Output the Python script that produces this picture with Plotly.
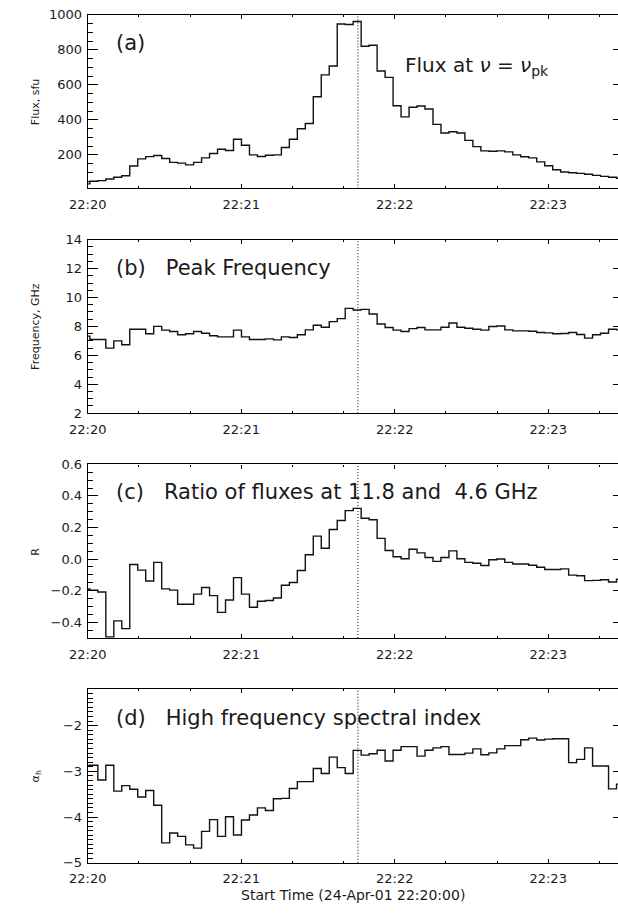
import plotly.graph_objects as go

# ---------------- data ----------------
T0 = -0.76      # s after 22:20:00 of first sample (bin centre)
DT = 3.12       # s cadence
PEAK_T = 105.6  # dotted line, s after 22:20:00

flux = [34, 49, 53, 62, 72, 81, 136, 177, 190, 196, 179, 157, 153, 143, 157, 183,
        208, 232, 225, 289, 255, 200, 191, 198, 200, 242, 289, 349, 379, 532, 657, 708,
        948, 945, 962, 821, 826, 679, 643, 481, 417, 472, 479, 462, 374, 325, 332, 325,
        283, 247, 223, 221, 223, 217, 200, 189, 183, 160, 138, 115, 102, 98, 94, 89,
        83, 77, 72, 66]

freq = [7.33, 7.10, 7.10, 6.50, 7.00, 6.73, 7.80, 7.80, 7.49, 8.00, 7.74, 7.65, 7.42,
        7.49, 7.65, 7.53, 7.35, 7.28, 7.28, 7.74, 7.28, 7.10, 7.10, 7.14, 7.07, 7.28,
        7.23, 7.42, 7.76, 8.08, 7.94, 8.33, 8.54, 9.25, 9.13, 9.18, 8.86, 8.17, 7.92,
        7.74, 7.65, 7.85, 7.92, 7.76, 7.76, 7.94, 8.24, 7.94, 7.87, 7.80, 7.74, 7.99,
        8.03, 7.76, 7.69, 7.69, 7.67, 7.58, 7.55, 7.49, 7.51, 7.58, 7.44, 7.19, 7.42,
        7.53, 7.80, 7.76]

ratio = [-0.190, -0.197, -0.209, -0.493, -0.392, -0.441, -0.035, -0.070, -0.139, -0.021,
         -0.189, -0.197, -0.286, -0.286, -0.222, -0.180, -0.232, -0.338, -0.259, -0.118,
         -0.222, -0.305, -0.267, -0.263, -0.247, -0.166, -0.149, -0.073, 0.027, 0.145,
         0.068, 0.187, 0.244, 0.307, 0.321, 0.259, 0.249, 0.131, 0.054, 0.015, 0.002,
         0.062, 0.039, 0.010, -0.015, 0.010, 0.052, 0.002, -0.021, -0.027, -0.041,
         -0.004, 0.000, -0.021, -0.031, -0.031, -0.039, -0.052, -0.066, -0.066, -0.062,
         -0.102, -0.106, -0.137, -0.135, -0.131, -0.145, -0.128]

alpha = [-2.87, -2.867, -3.19, -2.867, -3.434, -3.312, -3.391, -3.563, -3.42, -3.742,
         -4.566, -4.351, -4.423, -4.609, -4.681, -4.315, -4.057, -4.423, -3.993, -4.394,
         -4.065, -3.957, -3.799, -3.857, -3.599, -3.591, -3.376, -3.226, -3.226, -2.939,
         -3.047, -2.688, -2.918, -3.047, -2.54, -2.645, -2.616, -2.538, -2.774, -2.538,
         -2.459, -2.459, -2.667, -2.538, -2.487, -2.459, -2.631, -2.631, -2.602, -2.509,
         -2.638, -2.595, -2.509, -2.437, -2.437, -2.308, -2.272, -2.315, -2.294, -2.287,
         -2.287, -2.81, -2.738, -2.487, -2.882, -2.882, -3.384, -3.28]

times = [T0 + i * DT for i in range(len(flux))]

x_tickvals = [0, 60, 120, 180]
x_ticktext = ["22:20", "22:21", "22:22", "22:23"]

y_titles = ["Flux, sfu", "Frequency, GHz", "R", "α<sub>h</sub>"]
y_ranges = [[8, 1000], [2, 14], [-0.5, 0.6], [-5.0, -1.2]]
y_tickvals = [[200, 400, 600, 800, 1000],
              [2, 4, 6, 8, 10, 12, 14],
              [-0.4, -0.2, 0.0, 0.2, 0.4, 0.6],
              [-5, -4, -3, -2]]
y_ticktext = [["200", "400", "600", "800", "1000"],
              ["2", "4", "6", "8", "10", "12", "14"],
              ["−0.4", "−0.2", "0.0", "0.2", "0.4", "0.6"],
              ["−5", "−4", "−3", "−2"]]
y_minor = [50, 0.5, 0.05, 0.1]

panel_labels = ["(a)", "(b)   Peak Frequency",
                "(c)   Ratio of fluxes at 11.8 and  4.6 GHz",
                "(d)   High frequency spectral index"]
flux_label = "Flux at <i>ν</i> = <i>ν</i><sub>pk</sub>"
x_title = "Start Time (24-Apr-01 22:20:00)"

series = [flux, freq, ratio, alpha]

# ---------------- layout geometry (pixels) ----------------
W, H = 618, 913
XL_PX = 71
X_END = 207.3
PANEL_TOP = [8, 236.5, 465, 693.5]
PANEL_H = 176.5
FONT = "DejaVu Sans, sans-serif"
TXT = "#1a1a1a"

def py(p):
    return 1 - p / H

def px(p):
    return p / W

fig = go.Figure()
layout = dict(width=W, height=H, margin=dict(l=0, r=0, t=0, b=0),
              paper_bgcolor="white", plot_bgcolor="white", showlegend=False,
              font=dict(family=FONT, size=13, color=TXT))
shapes = []
annotations = []

for i in range(4):
    n = i + 1
    xs = "" if n == 1 else str(n)
    top = PANEL_TOP[i]
    dom = [py(top + PANEL_H), py(top)]
    fig.add_trace(go.Scatter(x=times, y=series[i], mode="lines",
                             line=dict(color="#111111", width=1.4, shape="hvh"),
                             xaxis="x" + xs, yaxis="y" + xs, hoverinfo="skip"))
    fig.add_trace(go.Scatter(x=[None], y=[None], mode="lines",
                             xaxis="x" + xs, yaxis="y" + str(n + 4), hoverinfo="skip"))
    layout["xaxis" + xs] = dict(
        domain=[px(XL_PX), 1], range=[0, X_END], anchor="y" + xs,
        tickmode="array", tickvals=x_tickvals, ticktext=x_ticktext,
        ticks="inside", ticklen=4, tickwidth=1, tickcolor="black",
        showline=True, linecolor="black", linewidth=1.3, mirror="ticks",
        showgrid=False, zeroline=False, ticklabelstandoff=4,
        tickfont=dict(family=FONT, size=13, color=TXT),
        minor=dict(dtick=20, tick0=0, ticks="inside", ticklen=2,
                   tickcolor="black", showgrid=False))
    layout["yaxis" + xs] = dict(
        domain=dom, range=y_ranges[i], anchor="x" + xs,
        tickmode="array", tickvals=y_tickvals[i], ticktext=y_ticktext[i],
        ticks="inside", ticklen=10, tickwidth=1, tickcolor="black",
        showline=True, linecolor="black", linewidth=1.3, mirror=False,
        showgrid=False, zeroline=False, ticklabelstandoff=2,
        tickfont=dict(family=FONT, size=13, color=TXT),
        minor=dict(dtick=y_minor[i], tick0=0, ticks="inside", ticklen=5,
                   tickcolor="black", showgrid=False))
    layout["yaxis" + str(n + 4)] = dict(
        overlaying="y" + xs, side="right", anchor="x" + xs,
        range=y_ranges[i], tickmode="array", tickvals=y_tickvals[i],
        ticks="inside", ticklen=5, tickcolor="black", showticklabels=False,
        showline=False, showgrid=False, zeroline=False)
    shapes.append(dict(type="line", xref="x" + xs, yref="y" + xs + " domain",
                       x0=PEAK_T, x1=PEAK_T, y0=0, y1=1,
                       line=dict(color="black", width=1, dash="1px,2px")))
    annotations.append(dict(text=y_titles[i], x=px(17), y=py(top + PANEL_H / 2),
                            xref="paper", yref="paper", showarrow=False,
                            textangle=-90, xanchor="center", yanchor="middle",
                            font=dict(family=FONT, size=11, color=TXT)))

label_pos = [(98, 36.7), (98, 265.7), (98, 493.3), (98, 723.3)]
for i, lab in enumerate(panel_labels):
    annotations.append(dict(text=lab, x=px(label_pos[i][0]), y=py(label_pos[i][1]),
                            xref="paper", yref="paper", showarrow=False,
                            xanchor="left", yanchor="middle",
                            font=dict(family=FONT, size=21, color=TXT)))
annotations.append(dict(text=flux_label, x=px(396), y=py(60),
                        xref="paper", yref="paper", showarrow=False,
                        xanchor="left", yanchor="middle",
                        font=dict(family=FONT, size=20, color=TXT)))
annotations.append(dict(text=x_title, x=px((XL_PX + W) / 2), y=py(903),
                        xref="paper", yref="paper", showarrow=False,
                        xanchor="center", yanchor="middle",
                        font=dict(family=FONT, size=14, color=TXT)))

layout["shapes"] = shapes
layout["annotations"] = annotations
fig.update_layout(**layout)
fig.write_html("out.html")
